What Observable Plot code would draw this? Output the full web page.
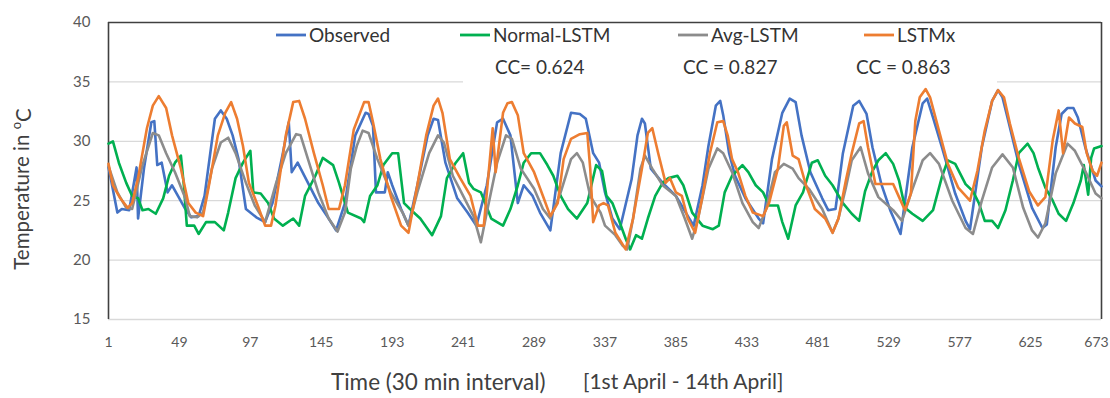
<!DOCTYPE html>
<html>
<head>
<meta charset="utf-8">
<script src="https://cdn.jsdelivr.net/npm/d3@7"></script>
<script src="https://cdn.jsdelivr.net/npm/@observablehq/plot@0.6"></script>
<style>
  html, body { margin: 0; padding: 0; background: #fff; }
  #chart { width: 1110px; height: 398px; }
</style>
</head>
<body>
<div id="chart"></div>
<script>
// ---------- data (time index in 30-min steps, temperature in °C) ----------
const seriesNames = ["Observed", "Normal-LSTM", "Avg-LSTM", "LSTMx"];
const seriesColors = ["#4472C4", "#00B050", "#8C8C8C", "#ED7D31"];
const ccLabels = ["CC= 0.624", "CC = 0.827", "CC = 0.863"];
const xTicks = [1, 49, 97, 145, 193, 241, 289, 337, 385, 433, 481, 529, 577, 625, 673];
const yTicks = [15, 20, 25, 30, 35, 40];

const obsT = [1, 2, 7, 10, 15, 20, 21, 25, 30, 32, 34, 37, 41, 44, 48, 53, 57, 62, 66, 73, 77, 81, 85, 89, 94, 101, 107, 112, 119, 123, 125, 129, 136, 143, 150, 155, 161, 168, 175, 177, 180, 182, 188, 190, 193, 199, 204, 210, 217, 221, 224, 229, 237, 244, 250, 257, 264, 268, 273, 278, 282, 288, 293, 300, 307, 314, 320, 324, 329, 333, 337, 342, 347, 355, 359, 362, 364, 368, 376, 385, 394, 397, 403, 407, 412, 415, 417, 421, 425, 432, 441, 444, 450, 457, 462, 466, 470, 476, 484, 488, 493, 498, 505, 509, 514, 518, 524, 530, 537, 545, 552, 555, 559, 565, 574, 581, 584, 592, 599, 603, 606, 610, 617, 626, 633, 636, 642, 646, 650, 654, 657, 662, 669, 673];
const obsV = [27.8, 27.2, 24.0, 24.3, 24.2, 27.8, 23.5, 27.7, 31.6, 31.7, 28.0, 28.2, 25.7, 26.3, 25.4, 24.3, 23.6, 23.7, 25.4, 31.9, 32.6, 31.9, 30.5, 28.5, 24.3, 23.6, 23.2, 24.8, 29.0, 31.6, 27.4, 28.2, 26.5, 24.8, 23.5, 22.5, 24.8, 30.5, 32.4, 32.3, 31.3, 25.7, 25.7, 27.4, 26.3, 24.3, 22.9, 26.3, 30.5, 31.9, 31.8, 28.2, 25.2, 24.0, 22.9, 26.3, 31.6, 31.9, 30.5, 24.8, 26.3, 25.4, 24.0, 22.5, 29.0, 32.4, 32.3, 31.9, 29.0, 28.2, 25.7, 23.5, 22.6, 26.8, 30.5, 31.9, 31.5, 27.7, 26.5, 25.4, 23.5, 22.9, 26.3, 29.6, 33.0, 33.4, 32.2, 29.0, 27.1, 25.2, 23.5, 23.1, 28.5, 32.4, 33.6, 33.3, 30.5, 27.4, 25.2, 24.2, 24.3, 29.0, 33.0, 33.4, 32.3, 29.5, 26.4, 24.2, 22.2, 29.5, 33.2, 33.6, 32.0, 29.5, 25.6, 23.3, 22.6, 29.5, 33.4, 34.3, 33.7, 31.7, 28.1, 24.4, 22.7, 23.0, 29.5, 32.3, 32.8, 32.8, 32.0, 29.5, 26.7, 26.2];

const normT = [1, 4, 8, 13, 17, 21, 24, 28, 33, 38, 42, 46, 50, 52, 54, 59, 62, 67, 73, 79, 82, 87, 92, 97, 99, 104, 109, 113, 119, 126, 130, 134, 141, 146, 153, 157, 163, 172, 174, 178, 183, 187, 193, 197, 199, 201, 205, 212, 220, 226, 230, 236, 241, 245, 248, 253, 260, 268, 273, 278, 282, 287, 293, 298, 302, 307, 312, 318, 325, 331, 335, 338, 342, 346, 351, 354, 358, 362, 366, 371, 376, 380, 386, 390, 396, 403, 410, 414, 418, 423, 430, 434, 439, 444, 448, 454, 457, 461, 466, 471, 477, 481, 486, 491, 498, 504, 509, 513, 518, 522, 527, 532, 536, 540, 545, 552, 559, 565, 569, 574, 581, 586, 590, 594, 599, 603, 608, 613, 617, 623, 627, 630, 635, 640, 644, 649, 654, 659, 661, 664, 666, 668, 673];
const normV = [29.8, 30.0, 28.2, 26.5, 25.4, 25.2, 24.2, 24.3, 23.9, 25.2, 27.1, 28.2, 28.8, 26.3, 22.9, 22.9, 22.2, 23.2, 23.2, 22.5, 24.0, 26.9, 28.2, 29.2, 25.7, 25.6, 24.8, 23.5, 22.9, 23.5, 22.9, 25.4, 27.1, 28.6, 28.0, 26.5, 24.0, 23.5, 23.2, 25.4, 26.3, 28.0, 29.0, 29.0, 26.9, 24.8, 24.3, 23.5, 22.1, 23.7, 26.9, 28.2, 29.0, 26.5, 26.0, 25.7, 23.5, 22.9, 24.3, 26.3, 28.2, 29.0, 29.0, 28.0, 27.1, 25.4, 24.3, 23.5, 24.8, 28.0, 27.5, 25.4, 24.8, 23.5, 21.8, 20.9, 22.1, 21.8, 23.5, 25.4, 26.5, 26.9, 27.1, 26.3, 24.0, 22.9, 22.6, 22.9, 25.7, 27.1, 28.0, 27.4, 26.3, 25.7, 24.6, 24.6, 23.2, 21.8, 24.6, 25.7, 28.2, 28.4, 27.1, 26.3, 24.8, 23.9, 23.3, 25.8, 27.5, 28.4, 29.0, 28.1, 26.7, 24.4, 23.9, 23.3, 24.2, 27.0, 28.4, 28.1, 26.4, 25.8, 24.8, 23.3, 23.3, 22.7, 24.2, 26.7, 29.0, 29.8, 29.0, 27.8, 26.1, 25.0, 23.9, 23.3, 24.8, 26.7, 28.0, 25.5, 28.6, 29.4, 29.6];

const avgT = [1, 7, 13, 17, 24, 31, 35, 40, 46, 53, 56, 61, 65, 71, 77, 82, 87, 94, 100, 107, 114, 121, 128, 131, 136, 143, 150, 156, 161, 165, 169, 173, 177, 183, 192, 200, 204, 210, 218, 224, 228, 234, 241, 248, 253, 257, 264, 270, 274, 280, 289, 295, 300, 307, 314, 318, 322, 327, 334, 337, 344, 349, 352, 356, 361, 364, 369, 376, 385, 391, 396, 400, 407, 413, 417, 423, 430, 437, 441, 446, 452, 458, 464, 468, 475, 484, 491, 495, 500, 504, 510, 515, 522, 532, 538, 544, 552, 557, 563, 572, 581, 586, 592, 599, 606, 613, 620, 626, 630, 635, 642, 650, 655, 662, 669, 673];
const avgV = [27.9, 25.7, 24.4, 24.3, 28.0, 30.7, 30.5, 29.0, 27.4, 25.2, 23.7, 23.6, 24.0, 27.7, 29.9, 30.3, 29.0, 26.5, 24.6, 23.2, 26.3, 29.0, 30.6, 30.5, 28.5, 25.7, 23.5, 22.4, 24.0, 27.7, 29.6, 30.9, 30.7, 28.5, 25.7, 24.0, 22.9, 25.7, 29.0, 30.5, 29.9, 27.1, 25.4, 23.7, 21.5, 24.0, 28.2, 30.5, 30.2, 27.7, 26.0, 24.3, 23.5, 25.7, 28.5, 29.0, 28.2, 25.4, 24.0, 22.9, 22.1, 21.2, 20.9, 23.5, 27.7, 28.8, 27.7, 26.3, 25.4, 23.5, 21.8, 23.5, 27.7, 29.4, 29.0, 27.4, 24.8, 23.2, 22.7, 24.3, 27.4, 28.1, 27.7, 26.9, 26.0, 24.3, 22.3, 23.5, 26.1, 28.4, 29.5, 27.3, 25.3, 24.2, 23.3, 25.6, 28.4, 29.0, 28.1, 25.0, 22.7, 22.2, 25.0, 27.8, 28.9, 27.8, 24.4, 22.5, 21.9, 23.1, 27.3, 29.8, 29.2, 27.5, 25.6, 25.2];

const lstmxT = [1, 4, 9, 14, 17, 21, 27, 31, 35, 40, 44, 50, 55, 60, 65, 69, 75, 80, 84, 88, 92, 96, 102, 107, 111, 114, 121, 126, 130, 134, 140, 146, 150, 157, 161, 167, 174, 177, 180, 185, 192, 199, 204, 210, 216, 221, 224, 227, 232, 239, 246, 251, 255, 261, 263, 268, 271, 274, 278, 282, 289, 295, 300, 305, 309, 314, 320, 325, 327, 329, 333, 336, 339, 344, 351, 356, 362, 366, 369, 373, 378, 381, 385, 389, 393, 398, 403, 408, 413, 417, 420, 423, 427, 432, 437, 444, 448, 454, 458, 460, 464, 468, 473, 479, 486, 491, 495, 500, 504, 509, 512, 515, 520, 525, 532, 536, 540, 544, 547, 550, 554, 557, 563, 569, 576, 584, 589, 594, 599, 603, 607, 611, 617, 624, 630, 635, 640, 644, 647, 651, 655, 660, 663, 667, 670, 673];
const lstmxV = [28.1, 26.3, 25.2, 24.4, 24.8, 26.9, 31.1, 33.0, 33.8, 32.8, 30.5, 27.7, 24.8, 24.0, 23.7, 26.3, 30.5, 32.4, 33.3, 31.9, 29.6, 26.5, 24.6, 22.9, 22.9, 24.6, 30.5, 33.3, 33.4, 31.9, 29.0, 26.3, 24.3, 24.3, 26.3, 31.0, 33.3, 33.3, 31.6, 28.5, 25.4, 22.9, 22.3, 26.3, 30.5, 33.0, 33.6, 32.4, 28.5, 26.9, 25.4, 22.9, 22.9, 31.1, 27.4, 32.4, 33.2, 33.3, 32.2, 29.0, 27.4, 25.4, 23.7, 24.8, 28.5, 30.2, 30.6, 30.7, 27.7, 23.2, 24.6, 24.8, 24.6, 22.3, 20.9, 23.5, 27.7, 30.7, 31.1, 29.0, 26.5, 26.9, 25.7, 25.4, 23.5, 22.3, 25.4, 29.0, 31.6, 31.7, 30.5, 28.5, 27.4, 25.4, 24.0, 23.7, 24.8, 27.7, 31.3, 31.6, 28.8, 28.5, 26.3, 24.3, 23.5, 22.3, 23.5, 26.7, 29.0, 31.5, 31.7, 29.5, 26.4, 26.4, 26.4, 25.3, 24.2, 25.6, 31.7, 33.7, 34.4, 33.7, 30.9, 28.1, 26.1, 25.0, 27.5, 30.9, 33.4, 34.3, 33.7, 31.5, 28.6, 25.8, 24.6, 25.3, 30.1, 32.6, 29.0, 32.0, 31.5, 31.2, 29.0, 27.5, 27.1, 28.2];

// ---------- build table ----------
const seriesT = [obsT, normT, avgT, lstmxT];
const seriesV = [obsV, normV, avgV, lstmxV];
const rows = [];
seriesNames.forEach((name, k) => {
  seriesT[k].forEach((t, i) => rows.push({series: name, t, v: seriesV[k][i]}));
});

const font = "Lato, 'Open Sans', sans-serif";

const chart = Plot.plot({
  width: 1110,
  height: 398,
  marginLeft: 108,
  marginRight: 9,
  marginTop: 22,
  marginBottom: 79,
  style: {fontFamily: font, fontSize: "14px", color: "#595959", background: "#fff"},
  x: {domain: [xTicks[0], xTicks[xTicks.length - 1]], ticks: xTicks, tickSize: 0, tickPadding: 18, label: null, tickFormat: d => String(d)},
  y: {domain: [yTicks[0], yTicks[yTicks.length - 1]], ticks: yTicks, tickSize: 0, tickPadding: 18, label: null},
  color: {domain: seriesNames, range: seriesColors},
  marks: [
    Plot.ruleY(yTicks.slice(0, -1), {stroke: "#d9d9d9", strokeWidth: 1.3}),
    Plot.ruleX([xTicks[0], xTicks[xTicks.length - 1]], {stroke: "#404040", strokeWidth: 1.6}),
    Plot.ruleY([yTicks[yTicks.length - 1]], {stroke: "#404040", strokeWidth: 1.6}),
    Plot.line(rows, {x: "t", y: "v", z: "series", stroke: "series", strokeWidth: 2.6, strokeLinejoin: "round"})
  ]
});
document.getElementById("chart").appendChild(chart);

// ---------- annotation layer: legend, CC text, axis titles ----------
const svg = d3.select(chart);
// y tick labels a bit larger, last x tick label kept inside the picture
svg.selectAll("g[aria-label='y-axis tick label'] text").attr("font-size", 15);
const xLabels = svg.selectAll("g[aria-label='x-axis tick label'] text").nodes();
if (xLabels.length) d3.select(xLabels[xLabels.length - 1]).attr("dx", -5);

// white text box that hides the 35 gridline behind the legend/CC labels
svg.append("rect").attr("x", 463).attr("y", 52).attr("width", 534).attr("height", 33).attr("fill", "#fff");

const legendX = [276, 460, 678, 864];
seriesNames.forEach((name, i) => {
  const g = svg.append("g");
  g.append("line").attr("x1", legendX[i]).attr("x2", legendX[i] + 30)
    .attr("y1", 35).attr("y2", 35).attr("stroke", seriesColors[i]).attr("stroke-width", 2.8);
  g.append("text").attr("x", legendX[i] + 33).attr("y", 35).attr("dy", "0.35em")
    .attr("text-anchor", "start")
    .attr("font-family", font).attr("font-size", 19).attr("fill", "#333").text(name);
});
const ccX = [495, 683, 856];
ccLabels.forEach((c, i) => {
  svg.append("text").attr("x", ccX[i]).attr("y", 67).attr("dy", "0.35em")
    .attr("text-anchor", "start")
    .attr("font-family", font).attr("font-size", 19).attr("fill", "#333").text(c);
});

svg.append("text").attr("x", 331).attr("y", 382).attr("dy", "0.35em").attr("text-anchor", "start")
  .attr("font-family", font).attr("font-size", 22.5).attr("fill", "#404040").text("Time (30 min interval)");
svg.append("text").attr("x", 583).attr("y", 382).attr("dy", "0.35em").attr("text-anchor", "start")
  .attr("font-family", font).attr("font-size", 21).attr("fill", "#404040").text("[1st April - 14th April]");

const yl = svg.append("text").attr("transform", "translate(22,189) rotate(-90)")
  .attr("text-anchor", "middle").attr("dy", "0.35em")
  .attr("font-family", font).attr("font-size", 20.5).attr("fill", "#404040");
yl.append("tspan").text("Temperature in ");
yl.append("tspan").attr("font-size", 13).attr("dy", "-0.6em").text("o");
yl.append("tspan").attr("dy", "0.45em").text("C");
</script>
</body>
</html>
